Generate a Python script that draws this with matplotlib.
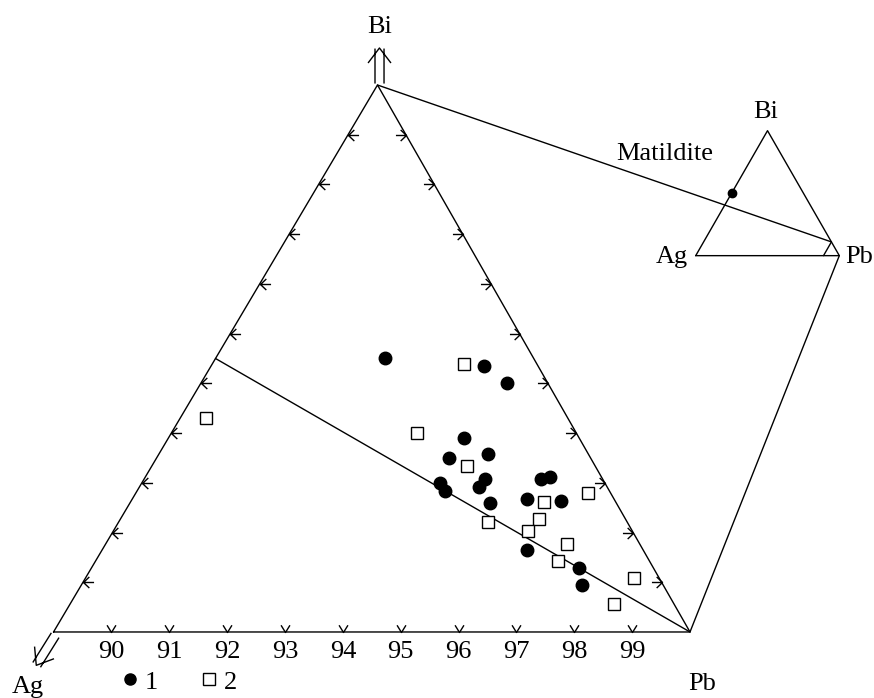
import numpy as np
import matplotlib.pyplot as plt
from matplotlib.path import Path
from matplotlib.markers import MarkerStyle
from matplotlib.transforms import Affine2D
from matplotlib.lines import Line2D

plt.rcParams['font.family'] = ['Liberation Serif', 'DejaVu Serif']

# compositions, at.% (Pb = 100 - Bi - Ag)
# 1 - filled circles
bi_1 = [5.51, 5.35, 5.01, 3.91, 3.50, 3.58, 3.00, 2.84, 3.08, 2.92, 2.59, 3.07, 3.12, 2.67, 2.63, 1.65, 1.28, 0.94]
ag_1 = [2.57, 0.94, 0.70, 1.98, 2.44, 1.73, 2.85, 2.84, 2.03, 2.22, 2.19, 1.07, 0.89, 1.50, 0.93, 2.01, 1.29, 1.41]
# 2 - open squares
bi_2 = [5.38, 4.00, 3.34, 2.21, 2.62, 2.27, 2.04, 2.80, 1.76, 1.43, 1.08, 0.56, 4.31]
ag_2 = [1.27, 2.76, 2.21, 2.40, 1.23, 1.50, 1.80, 0.38, 1.27, 1.58, 0.44, 1.04, 6.25]

pb_min = 89
pb_ticks = [90, 91, 92, 93, 94, 95, 96, 97, 98, 99]
side_ticks = [1, 2, 3, 4, 5, 6, 7, 8, 9, 10]
matildite_bi, matildite_ag = 50, 50

FS = 19
APEX_U = 0.509
INSET = (1.009, 0.688, 0.2256, 0.2285)


def corner_xy(bi, ag):
    # big triangle = Pb corner (Pb from 89 to 100)
    bi = np.asarray(bi, float)
    ag = np.asarray(ag, float)
    pb = 100 - bi - ag
    wp = (pb - pb_min) / (100 - pb_min)
    wb = bi / (100 - pb_min)
    return wp + APEX_U * wb, wb


def inset_xy(bi, ag):
    bi = np.asarray(bi, float)
    ag = np.asarray(ag, float)
    pb = 100 - bi - ag
    x0, y0, w, h = INSET
    return x0 + w * (pb / 100 + 0.5 * bi / 100), y0 + h * bi / 100


def path_marker(verts, codes, rot=0):
    verts = np.array(verts, float)
    m = MarkerStyle(Path(verts, codes), transform=Affine2D().rotate_deg(rot))
    return m, 2 * np.abs(verts).max()


M, L = Path.MOVETO, Path.LINETO
left_tick, left_ms = path_marker([(4.2, 4.0), (0, 0), (4.2, -4.0), (0, 0), (7.6, 0)], [M, L, L, M, L])
right_tick, right_ms = path_marker([(-4.2, 4.0), (0, 0), (-4.2, -4.0), (0, 0), (-7.6, 0)], [M, L, L, M, L])
base_tick, base_ms = path_marker([(-3.2, 5.2), (0, 0), (3.2, 5.2)], [M, L, L])
dbl = [(-1.8, 1.4), (-1.8, 26.6), (4.7, 1.4), (4.7, 26.6), (-6.8, 16.2), (1.4, 27.0), (9.7, 16.2)]
dbl_codes = [M, L, M, L, M, L, L]
up_arrow, up_ms = path_marker(dbl, dbl_codes, 0)
ag_arrow, ag_ms = path_marker([(-x, y) for x, y in dbl], dbl_codes, 148)

fig = plt.figure(figsize=(8.74, 6.98), dpi=100)
ax = fig.add_axes([0, 0, 1, 1])
ax.set_xlim(-0.0841, 1.2891)
ax.set_ylim(-0.1207, 1.1554)
ax.axis('off')

lw = 1.0
kw = dict(color='black', lw=lw, solid_capstyle='round', solid_joinstyle='round')

# big triangle
vx, vy = corner_xy([0, 100 - pb_min, 0, 0], [100 - pb_min, 0, 0, 100 - pb_min])
ax.plot(vx, vy, **kw)
# Pb - matildite line
tx, ty = corner_xy([0, (100 - pb_min) / 2], [0, (100 - pb_min) / 2])
ax.plot(tx, ty, **kw)

# ticks
bx, by = corner_xy(np.zeros(len(pb_ticks)), 100 - np.array(pb_ticks))
ax.plot(bx, by, ls='none', marker=base_tick, ms=base_ms, mfc='none', mec='black', mew=lw)
for t, x, y in zip(pb_ticks, bx, by):
    ax.annotate(str(t), (x, y), xytext=(0, -18.7), textcoords='offset points',
                ha='center', va='baseline', fontsize=FS)
lx, ly = corner_xy(side_ticks, 100 - pb_min - np.array(side_ticks))
ax.plot(lx, ly, ls='none', marker=left_tick, ms=left_ms, mfc='none', mec='black', mew=lw)
rx, ry = corner_xy(side_ticks, np.zeros(len(side_ticks)))
ax.plot(rx, ry, ls='none', marker=right_tick, ms=right_ms, mfc='none', mec='black', mew=lw)

# corner arrows and labels
ax.plot(vx[1], vy[1], ls='none', marker=up_arrow, ms=up_ms, mfc='none', mec='black', mew=lw)
ax.plot(vx[0], vy[0], ls='none', marker=ag_arrow, ms=ag_ms, mfc='none', mec='black', mew=lw)
ax.annotate('Bi', (vx[1], vy[1]), xytext=(1.8, 37.4), textcoords='offset points',
            ha='center', va='baseline', fontsize=FS)
ax.annotate('Ag', (vx[0], vy[0]), xytext=(-18.4, -43.9), textcoords='offset points',
            ha='center', va='baseline', fontsize=FS)
ax.annotate('Pb', (vx[2], vy[2]), xytext=(8.6, -41.8), textcoords='offset points',
            ha='center', va='baseline', fontsize=FS)

# data
x1, y1 = corner_xy(bi_1, ag_1)
x2, y2 = corner_xy(bi_2, ag_2)
ax.plot(x1, y1, ls='none', marker='o', ms=9, mfc='black', mec='black', zorder=3)
ax.plot(x2, y2, ls='none', marker='s', ms=8, mfc='white', mec='black', mew=1, zorder=3)

# inset: whole Ag-Bi-Pb triangle
ix, iy = inset_xy([0, 100, 0, 0], [100, 0, 0, 100])
ax.plot(ix, iy, **kw)
cx, cy = inset_xy([0, 100 - pb_min], [100 - pb_min, 0])
ax.plot(cx, cy, **kw)
ax.plot([vx[1], cx[1]], [vy[1], cy[1]], **kw)
ax.plot([vx[2], ix[2]], [vy[2], iy[2]], **kw)
mx, my = inset_xy(matildite_bi, matildite_ag)
ax.plot(mx, my, ls='none', marker='o', ms=6, color='black', zorder=3)
ax.annotate('Bi', (ix[1], iy[1]), xytext=(-1.3, 8.9), textcoords='offset points',
            ha='center', va='baseline', fontsize=FS)
ax.annotate('Ag', (ix[0], iy[0]), xytext=(-5.5, -5.5), textcoords='offset points',
            ha='right', va='baseline', fontsize=FS)
ax.annotate('Pb', (ix[2], iy[2]), xytext=(4.1, -5.5), textcoords='offset points',
            ha='left', va='baseline', fontsize=FS)
ax.annotate('Matildite', (ix[1], iy[1]), xytext=(-73.8, -21.1), textcoords='offset points',
            ha='center', va='baseline', fontsize=FS)

handles = [Line2D([], [], ls='none', marker='o', ms=8, mfc='black', mec='black'),
           Line2D([], [], ls='none', marker='s', ms=8, mfc='white', mec='black', mew=1)]
ax.legend(handles, ['1', '2'], ncol=2, frameon=False, fontsize=FS, loc='center left',
          bbox_to_anchor=(0.141, 0.023), borderpad=0, borderaxespad=0,
          handlelength=0.5, handletextpad=0.3, columnspacing=1.7)

fig.savefig('out.png', dpi=100)
